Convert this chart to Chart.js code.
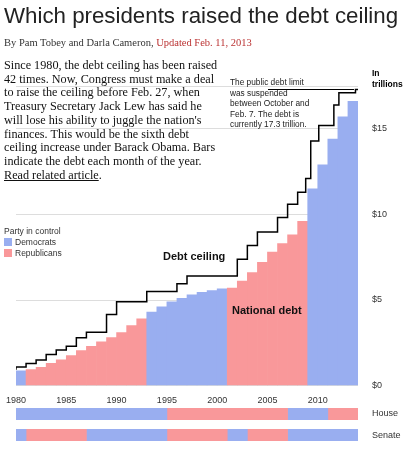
<!DOCTYPE html><html><head><meta charset="utf-8">
<script src="https://cdn.jsdelivr.net/npm/chart.js@4"></script>
<style>
body{margin:0;width:410px;height:451px;position:relative;background:#fff;font-family:"Liberation Sans",Arial,sans-serif;overflow:hidden}
.a{position:absolute}
#title{left:4px;top:3px;font-size:22.3px;color:#222;font-family:"Liberation Sans"}
#by{left:4px;top:37px;font-size:10.5px;font-family:"Liberation Serif",serif;color:#333}
#by span{color:#b33}
#p{left:4px;top:59px;width:216px;font-size:12.2px;line-height:13.7px;font-family:"Liberation Serif",serif;color:#111}
#p u{text-decoration:underline}
#leg{left:4px;top:226px;font-size:8.5px;color:#333;line-height:11px}
.sw{display:inline-block;width:8px;height:8px;margin-right:3px;vertical-align:-1px}
#note{left:230px;top:77px;font-size:8.3px;line-height:10.5px;width:90px;color:#222}
#unit{left:372px;top:68px;font-size:8.5px;font-weight:bold;line-height:11px}
.lbl{font-weight:bold;font-size:11px;color:#111}
.rl{font-size:9px;color:#333;left:372px}
</style></head><body>
<div class="a" style="left:0;top:0;width:410px;height:405px"><canvas id="c" width="410" height="405"></canvas></div>
<div class="a" style="left:0;top:408px;width:410px;height:12px"><canvas id="h" width="410" height="12"></canvas></div>
<div class="a" style="left:0;top:429px;width:410px;height:12px"><canvas id="s" width="410" height="12"></canvas></div>
<div class="a" id="title">Which presidents raised the debt ceiling</div>
<div class="a" id="by">By Pam Tobey and Darla Cameron, <span>Updated Feb. 11, 2013</span></div>
<div class="a" id="p">Since 1980, the debt ceiling has been raised 42 times. Now, Congress must make a deal to raise the ceiling before Feb. 27, when Treasury Secretary Jack Lew has said he will lose his ability to juggle the nation's finances. This would be the sixth debt ceiling increase under Barack Obama. Bars indicate the debt each month of the year. <u>Read related article</u>.</div>
<div class="a" id="leg">Party in control<br><span class="sw" style="background:#99aef0"></span>Democrats<br><span class="sw" style="background:#f9989a"></span>Republicans</div>
<div class="a" id="note">The public debt limit was suspended between October and Feb. 7. The debt is currently 17.3 trillion.</div>
<div class="a" id="unit">In<br>trillions</div>
<div class="a" style="left:268px;top:89px;width:86px;height:1px;background:#000"></div>
<div class="a lbl" style="left:163px;top:250px">Debt ceiling</div>
<div class="a lbl" style="left:232px;top:304px">National debt</div>
<div class="a rl" style="top:408px">House</div>
<div class="a rl" style="top:430px">Senate</div>
<script>
const years=[1980,1981,1982,1983,1984,1985,1986,1987,1988,1989,1990,1991,1992,1993,1994,1995,1996,1997,1998,1999,2000,2001,2002,2003,2004,2005,2006,2007,2008,2009,2010,2011,2012,2013];
const debt=[0.86,0.93,1.07,1.3,1.5,1.76,2.05,2.3,2.55,2.8,3.1,3.5,3.9,4.3,4.6,4.9,5.1,5.3,5.45,5.55,5.65,5.7,6.1,6.6,7.2,7.8,8.3,8.8,9.6,11.5,12.9,14.4,15.7,16.6];
const ceilYears=[1980,1981,1982,1983,1984,1985,1986,1987,1989,1990,1993,1996,1997,2002,2003,2004,2006,2007,2008,2008.8,2009.3,2010.1,2011.6,2012.1,2013.75,2014];
const ceiling=[0.93,1.08,1.29,1.49,1.82,2.08,2.3,2.8,3.12,4.15,4.9,5.5,5.95,6.4,7.38,8.18,8.97,9.82,10.6,11.3,12.1,14.29,15.19,16.39,17.1,17.3];
const president=['D','R','R','R','R','R','R','R','R','R','R','R','R','D','D','D','D','D','D','D','D','R','R','R','R','R','R','R','R','D','D','D','D','D'];
const house=[[1980,1995,'D'],[1995,2007,'R'],[2007,2011,'D'],[2011,2014,'R']];
const senate=[[1980,1981,'D'],[1981,1987,'R'],[1987,1995,'D'],[1995,2001,'R'],[2001,2003,'D'],[2003,2007,'R'],[2007,2014,'D']];
const col={D:'#99aef0',R:'#f9989a'};
new Chart(document.getElementById('c'),{
 data:{datasets:[
  {type:'line',data:ceilYears.map((x,i)=>({x,y:ceiling[i]})),stepped:'after',borderColor:'#000',borderWidth:1.5,pointRadius:0,order:0},
  {type:'bar',data:years.map((x,i)=>({x:x+0.5,y:debt[i]})),backgroundColor:president.map(p=>col[p]),barPercentage:1,categoryPercentage:1,borderWidth:0,order:1}
 ]},
 options:{responsive:false,animation:false,events:[],layout:{padding:{top:86,left:16}},
  plugins:{legend:{display:false},tooltip:{enabled:false}},
  scales:{
   x:{type:'linear',min:1980,max:2014,offset:false,grid:{display:false},border:{display:false},
      ticks:{stepSize:5,color:'#333',font:{size:9},padding:2,callback:v=>v%5===0&&v<=2010?String(v):''},afterFit:s=>{s.height=18}},
   y:{position:'right',min:0,max:17.5,grid:{color:'#ddd',drawTicks:false},border:{display:false},
      ticks:{stepSize:5,color:'#333',font:{size:9},padding:14,callback:v=>v%5===0?'$'+v:''},afterFit:s=>{s.width=52}}
  }}
});
function strip(id,segs){
 new Chart(document.getElementById(id),{type:'bar',
  data:{labels:['r'],datasets:segs.map(s=>({data:[[s[0],s[1]]],backgroundColor:col[s[2]],borderWidth:0,grouped:false,barPercentage:1,categoryPercentage:1}))},
  options:{indexAxis:'y',responsive:false,animation:false,events:[],layout:{padding:{left:16,right:52,top:0,bottom:0}},
   plugins:{legend:{display:false},tooltip:{enabled:false}},
   scales:{x:{type:'linear',min:1980,max:2014,display:false},y:{display:false}}}});
}
strip('h',house);strip('s',senate);
</script></body></html>
